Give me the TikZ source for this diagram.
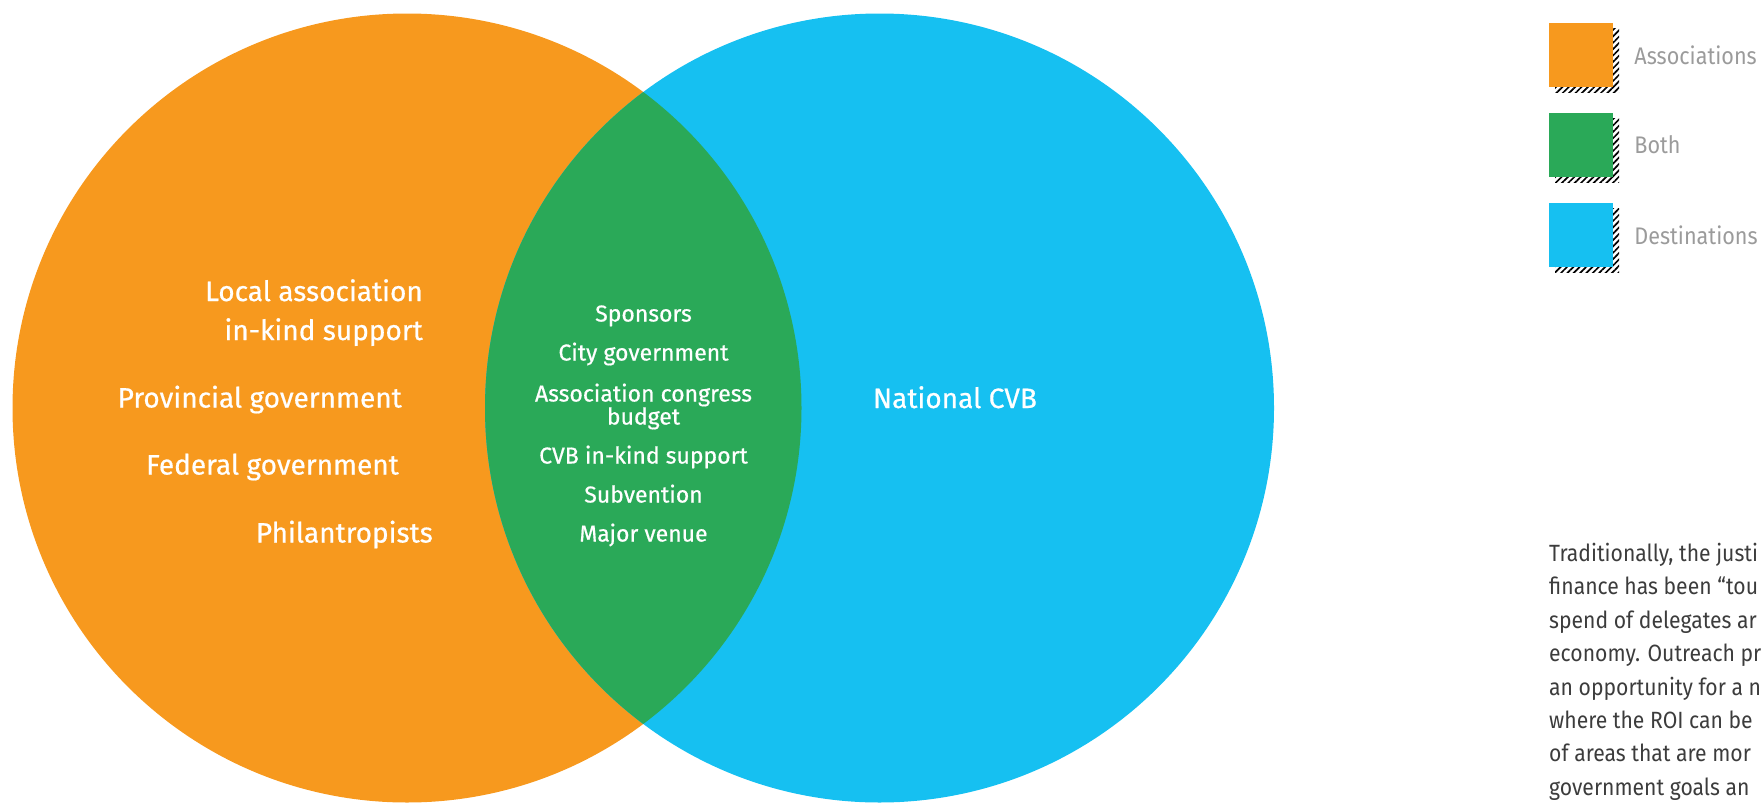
\documentclass[tikz,border=0pt]{standalone}
\usepackage{fontspec}
\setmainfont{Fira Sans}
\newfontfamily\medfont{Fira Sans}[FakeBold=0.6]
\newfontfamily\lightfont{Fira Sans}[FakeStretch=0.9]
\usetikzlibrary{positioning,patterns.meta}
\definecolor{assoc}{RGB}{247,153,30}
\definecolor{both}{RGB}{42,169,88}
\definecolor{dest}{RGB}{22,192,241}
\definecolor{legendgray}{RGB}{155,155,155}
\definecolor{bodygray}{RGB}{60,60,60}
\begin{document}
\begin{tikzpicture}[x=1pt,y=-1pt,
    biglabel/.style={text=white, font=\medfont\fontsize{28}{39}\selectfont, inner sep=0pt},
    smalllabel/.style={text=white, font=\medfont\fontsize{23}{24}\selectfont, inner sep=0pt, align=center},
    legendbox/.style={fill=#1, minimum size=64pt, inner sep=0pt},
    shadowbox/.style={pattern={Lines[angle=45,distance=4.5pt,line width=1.7pt]}, minimum size=64pt, inner sep=0pt},
    legendtext/.style={text=legendgray, font=\lightfont\fontsize{24}{28}\selectfont, inner sep=0pt}]
    \useasboundingbox (0,0) rectangle (1761,803);

    % the two sets and their overlap
    \fill[assoc] (407,408) circle[radius=394.5pt];
    \fill[dest] (879.5,408) circle[radius=394.5pt];
    \begin{scope}
        \clip (407,408) circle[radius=394.5pt];
        \fill[both] (879.5,408) circle[radius=394.5pt];
    \end{scope}

    % associations only
    \node[biglabel, align=right, anchor=north east] (local) at (423,279) {Local association\\in-kind support};
    \node[biglabel, anchor=base east] (provincial) at (402,407.5) {Provincial government};
    \node[biglabel, anchor=base east] (federal)    at (399,474.5) {Federal government};
    \node[biglabel, anchor=base east] (philan)     at (433,542.5) {Philantropists};

    % both
    \node[smalllabel, anchor=base] (sponsors) at (643.5,321.5) {Sponsors};
    \node[smalllabel, anchor=base] (city)     at (643.5,360.5) {City government};
    \node[smalllabel, anchor=base] (congress) at (643.5,401.5) {Association congress};
    \node[smalllabel, anchor=base] (budget)   at (643.5,424.5) {budget};
    \node[smalllabel, anchor=base] (cvbkind)  at (643.5,463.5) {CVB in-kind support};
    \node[smalllabel, anchor=base] (subv)     at (643.5,502.5) {Subvention};
    \node[smalllabel, anchor=base] (venue)    at (643.5,541.5) {Major venue};

    % destinations only
    \node[biglabel, anchor=base] (national) at (955,408) {National CVB};

    % legend
    \node[shadowbox] (shA) at (1587,60)  {};
    \node[shadowbox] (shB) at (1587,150) {};
    \node[shadowbox] (shC) at (1587,240) {};
    \node[legendbox=assoc] (boxA) at (1581,55)  {};
    \node[legendbox=both]  (boxB) at (1581,145) {};
    \node[legendbox=dest]  (boxC) at (1581,235) {};
    \node[legendtext, right=21pt of boxA] (txtA) {Associations};
    \node[legendtext, right=21pt of boxB] (txtB) {Both};
    \node[legendtext, right=21pt of boxC] (txtC) {Destinations};

    % body text, cut at the page edge
    \begin{scope}
        \clip (0,0) rectangle (1761,803);
        \node[text=bodygray, font=\lightfont\fontsize{23.5}{33.4}\selectfont, align=left, inner sep=0pt, anchor=north west] (body) at (1549,543)
            {Traditionally, the justi\\finance has been “tou\\spend of delegates ar\\economy. Outreach pr\\an opportunity for a n\\where the ROI can be\\of areas that are mor\\government goals an};
    \end{scope}
\end{tikzpicture}
\end{document}
